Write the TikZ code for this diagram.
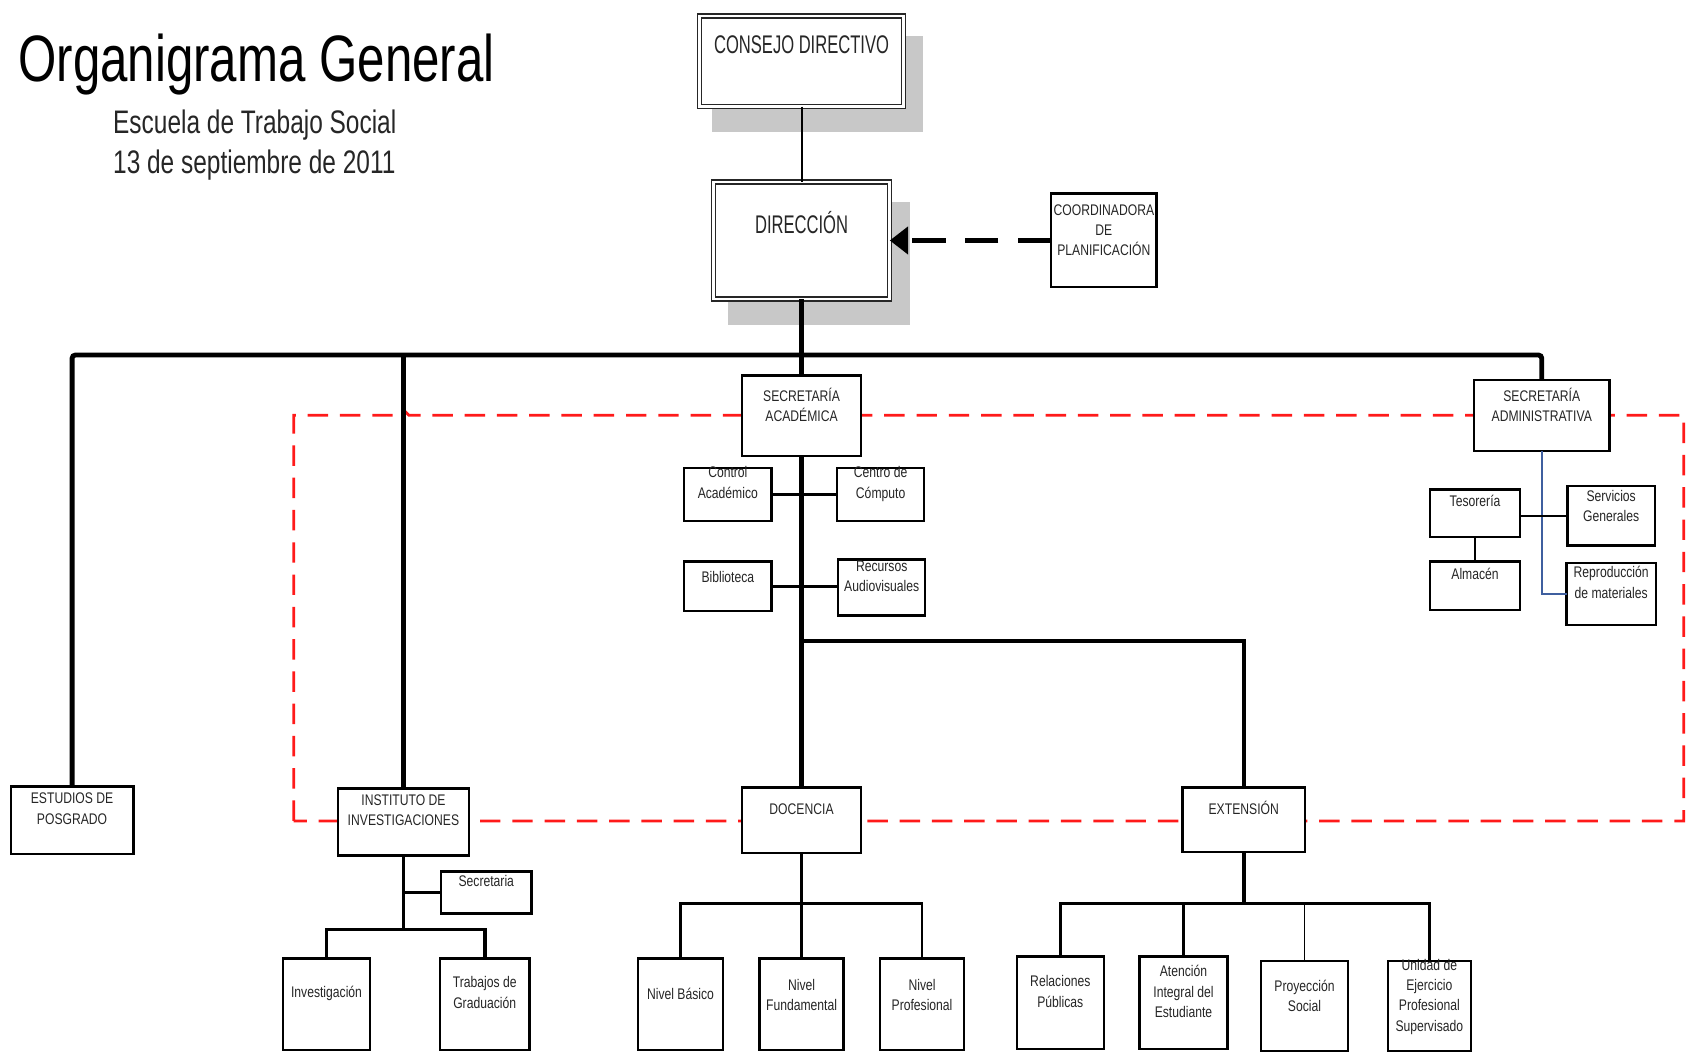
\documentclass[tikz,border=0pt]{standalone}
\usepackage{fontspec}
\setmainfont{Liberation Sans}
\newfontfamily\ttlfont[FakeStretch=0.75]{Liberation Sans}
\newfontfamily\bxfont[FakeStretch=0.79]{Liberation Sans}
\newfontfamily\bigbxfont[FakeStretch=0.65]{Liberation Sans}
\usetikzlibrary{arrows.meta}
\definecolor{shadowgray}{HTML}{C8C8C8}
\definecolor{txt}{HTML}{262626}
\definecolor{admblue}{HTML}{3F5F9F}
\definecolor{dashred}{HTML}{FF1A1A}
\begin{document}
\begin{tikzpicture}[x=1pt,y=-1pt,
  box/.style={draw=black, line width=2.2pt, fill=white, rectangle, inner sep=0pt, outer sep=0pt},
  dblbox/.style={draw=black!85, double=white, double distance=2.4pt, line width=1.3pt, fill=white, rectangle, inner sep=0pt, outer sep=0pt},
  lbl/.style={anchor=base, inner sep=0pt, align=center, text=txt, font=\bxfont\fontsize{14.3}{18.8}\selectfont},
  biglbl/.style={anchor=base, inner sep=0pt, text=txt, font=\bigbxfont\fontsize{23.7}{28}\selectfont},
  trunk/.style={line width=4.5pt},
  spine/.style={line width=5pt},
  conn/.style={line width=2.6pt},
  conn3/.style={line width=3.4pt},
  thinconn/.style={line width=1.8pt},
  blueconn/.style={draw=admblue, line width=1.6pt},
  reddash/.style={draw=dashred, line width=2.6pt, dash pattern=on 19pt off 11pt},
  shadowbox/.style={fill=shadowgray}
]
\useasboundingbox (0,0) rectangle (1568,978);

% title
\node[anchor=base west, inner sep=0pt, font=\ttlfont\fontsize{61}{61}\selectfont] (title) at (17,76) {Organigrama General};
\node[anchor=base west, inner sep=0pt, align=left, text=txt, font=\ttlfont\fontsize{30.3}{37}\selectfont] (subtitle) at (105,161) {Escuela de Trabajo Social\\13 de septiembre de 2011};

% shadows
\fill[shadowbox] (662,33) rectangle (858,123);
\fill[shadowbox] (677,188) rectangle (846,302);

% red dashed frame
\draw[reddash] (273,763) -- (273,386) -- (370,386) -- (375,381) -- (380,386) -- (1565,386) -- (1565,763) -- cycle;

% boxes
\node[dblbox, minimum width=190pt, minimum height=84pt] (consejo) at (745,57) {};
\node[dblbox, minimum width=164pt, minimum height=109pt] (direccion) at (745,223.5) {};
\node[box, minimum width=98pt, minimum height=87pt] (coord) at (1026,223.5) {};
\node[box, minimum width=111pt, minimum height=75pt] (secacad) at (745,386.5) {};
\node[box, minimum width=81pt, minimum height=49pt] (ctrl) at (676.5,459.5) {};
\node[box, minimum width=81pt, minimum height=49pt] (centro) at (818.5,459.5) {};
\node[box, minimum width=81pt, minimum height=46pt] (biblio) at (676.5,545) {};
\node[box, minimum width=81pt, minimum height=52pt] (recursos) at (819.5,546) {};
\node[box, minimum width=114pt, minimum height=63pt] (estudios) at (67,762.5) {};
\node[box, minimum width=122pt, minimum height=62pt] (instituto) at (375,764) {};
\node[box, minimum width=111pt, minimum height=61pt] (docencia) at (745,762.5) {};
\node[box, minimum width=114pt, minimum height=60pt] (extension) at (1156,762) {};
\node[box, minimum width=126pt, minimum height=66pt] (secadm) at (1433,386) {};
\node[box, minimum width=84pt, minimum height=44pt] (tesoreria) at (1371,477) {};
\node[box, minimum width=81pt, minimum height=55pt] (servicios) at (1497.5,479.5) {};
\node[box, minimum width=84pt, minimum height=45pt] (almacen) at (1371,544.5) {};
\node[box, minimum width=83pt, minimum height=58pt] (reproduccion) at (1497.5,552) {};
\node[box, minimum width=84pt, minimum height=39pt] (secretaria) at (452,829.5) {};
\node[box, minimum width=81pt, minimum height=85pt] (investigacion) at (303.5,933.5) {};
\node[box, minimum width=83pt, minimum height=85pt] (trabajos) at (450.5,933.5) {};
\node[box, minimum width=79pt, minimum height=85pt] (basico) at (632.5,933.5) {};
\node[box, minimum width=78pt, minimum height=85pt] (fundamental) at (745,933.5) {};
\node[box, minimum width=78pt, minimum height=85pt] (profesional) at (857,933.5) {};
\node[box, minimum width=81pt, minimum height=86pt] (relaciones) at (985.5,932) {};
\node[box, minimum width=82pt, minimum height=86pt] (atencion) at (1100,932) {};
\node[box, minimum width=81pt, minimum height=84pt] (proyeccion) at (1212.5,935) {};
\node[box, minimum width=77pt, minimum height=84pt] (unidad) at (1328.5,935) {};

% connectors
\coordinate (bus) at (745,330);
\coordinate (extj) at (745,596);
\coordinate (instj) at (375,864);
\coordinate (docj) at (745,840);
\coordinate (extk) at (1156,840);

\draw[thinconn] (consejo) -- (direccion);
\draw[line width=5pt, dash pattern=on 31pt off 18pt, -{Triangle[length=17pt,width=25pt]}] (coord.west) -- (direccion.east);
\draw[trunk] (direccion.south) -- (bus);
\draw[trunk, rounded corners=3pt] (estudios.north) |- (bus) -| (secadm.north);
\draw[trunk] (instituto.north) -- (instituto.north |- bus);
\draw[trunk] (bus) -- (secacad.north);
\draw[spine] (secacad.south) -- (docencia.north);
\draw[trunk, line width=3.8pt] (extj) -| (extension.north);

\draw[conn] (ctrl.east) -- (centro.west);
\draw[conn] (biblio.east) -- (biblio.east -| recursos.west);
\draw[blueconn] (secadm.south) |- (reproduccion.west);
\draw[conn] (servicios.west -| tesoreria.east) -- (servicios.west);
\draw[conn] (tesoreria.south) -- (almacen.north);

\draw[conn3] (instituto.south) -- (instj);
\draw[conn3] (instituto.south |- secretaria.west) -- (secretaria.west);
\draw[conn3] (investigacion.north) |- (instj) -| (trabajos.north);

\draw[conn3] (docencia.south) -- (docj);
\draw[conn] (basico.north) |- (docj) -| (profesional.north);
\draw[conn] (docj) -- (fundamental.north);

\draw[conn3] (extension.south) -- (extk);
\draw[conn] (relaciones.north) |- (extk) -| (unidad.north);
\draw[conn] (atencion.north) -- (atencion.north |- extk);
\draw[conn, line width=1.4pt] (proyeccion.north) -- (proyeccion.north |- extk);

% labels (multi-line labels are anchored at the baseline of their last line)
\node[biglbl] (consejo-t) at (745,50) {CONSEJO DIRECTIVO};
\node[biglbl] (direccion-t) at (745,217) {DIRECCIÓN};
\node[lbl] (coord-t) at (1026,237.6) {COORDINADORA\\DE\\PLANIFICACIÓN};
\node[lbl] (secacad-t) at (745,391.8) {SECRETARÍA\\ACADÉMICA};
\node[lbl] (ctrl-t) at (676.5,463) {Control\\Académico};
\node[lbl] (centro-t) at (818.5,463) {Centro de\\Cómputo};
\node[lbl] (biblio-t) at (676.5,541) {Biblioteca};
\node[lbl] (recursos-t) at (819.5,550) {Recursos\\Audiovisuales};
\node[lbl] (secadm-t) at (1433,392) {SECRETARÍA\\ADMINISTRATIVA};
\node[lbl] (tesoreria-t) at (1371,471) {Tesorería};
\node[lbl] (servicios-t) at (1497.5,485) {Servicios\\Generales};
\node[lbl] (almacen-t) at (1371,539) {Almacén};
\node[lbl] (reproduccion-t) at (1497.5,556) {Reproducción\\de materiales};
\node[lbl] (estudios-t) at (67,766) {ESTUDIOS DE\\POSGRADO};
\node[lbl] (instituto-t) at (375,767.5) {INSTITUTO DE\\INVESTIGACIONES};
\node[lbl] (secretaria-t) at (452,824) {Secretaria};
\node[lbl] (investigacion-t) at (303.5,927) {Investigación};
\node[lbl] (trabajos-t) at (450.5,937) {Trabajos de\\Graduación};
\node[lbl] (docencia-t) at (745,757) {DOCENCIA};
\node[lbl] (basico-t) at (632.5,929) {Nivel Básico};
\node[lbl] (fundamental-t) at (745,939) {Nivel\\Fundamental};
\node[lbl] (profesional-t) at (857,939) {Nivel\\Profesional};
\node[lbl] (extension-t) at (1156,757) {EXTENSIÓN};
\node[lbl] (relaciones-t) at (985.5,936) {Relaciones\\Públicas};
\node[lbl] (atencion-t) at (1100,945.6) {Atención\\Integral del\\Estudiante};
\node[lbl] (proyeccion-t) at (1212.5,940) {Proyección\\Social};
\node[lbl] (unidad-t) at (1328.5,958.4) {Unidad de\\Ejercicio\\Profesional\\Supervisado};
\end{tikzpicture}
\end{document}
